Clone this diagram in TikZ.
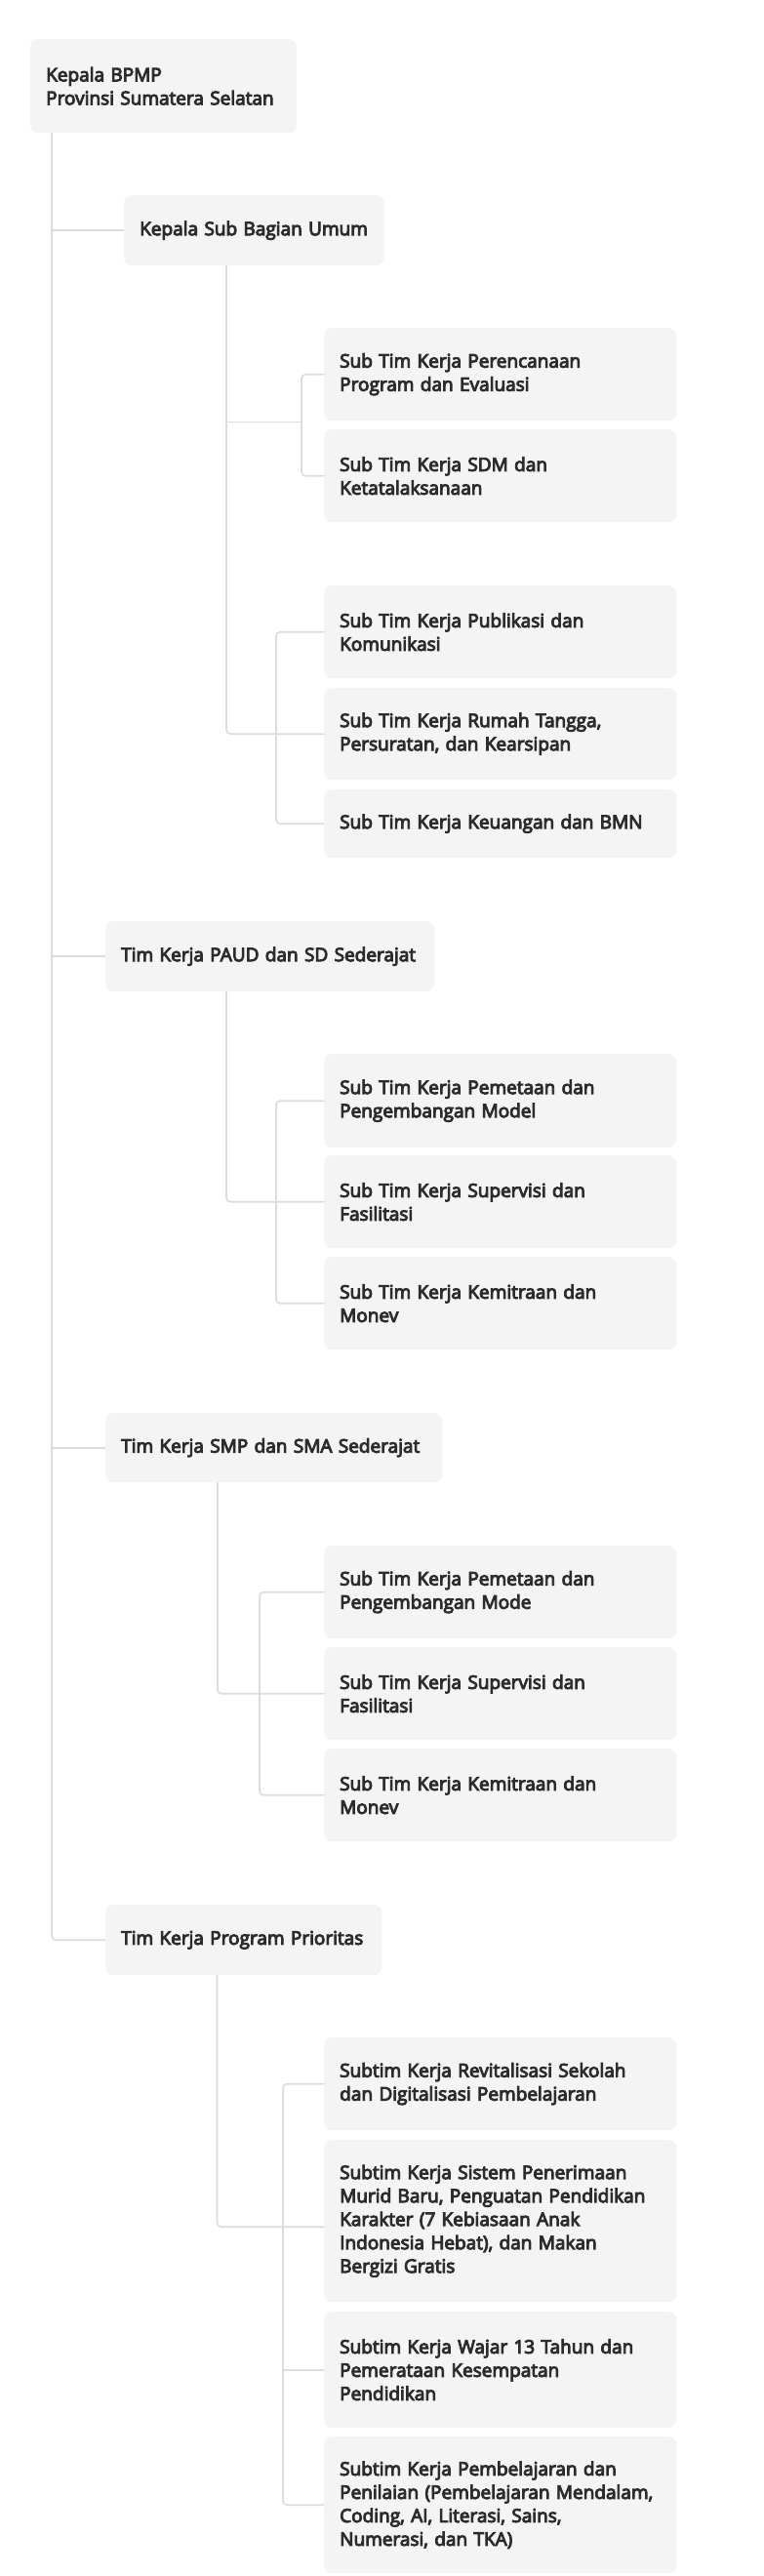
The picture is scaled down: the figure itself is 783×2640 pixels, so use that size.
\documentclass[tikz,border=0pt]{standalone}
\usepackage{fontspec}
\setmainfont{Open Sans}[FakeBold=5]
\definecolor{boxgray}{HTML}{F4F4F4}
\definecolor{linegray}{HTML}{DCDCDC}
\definecolor{inkgray}{HTML}{2C2C2C}
\begin{document}
\begin{tikzpicture}
        [x=1pt, y=-1pt,
        unit/.style={rectangle, rounded corners=8pt, fill=boxgray, text=inkgray, anchor=north west,
                inner xsep=16pt, inner ysep=0pt, align=left, font=\fontsize{19}{24}\selectfont},
        subunit/.style={unit, text width=329pt},
        link/.style={draw=linegray, line width=1.6pt, rounded corners=4pt}]
        \fill[white] (0,0) rectangle (783,2640);
        \useasboundingbox (0,0) rectangle (783,2640);

        \node[unit, text width=241pt, minimum height=96pt] (root) at (31,40) {Kepala BPMP\\Provinsi Sumatera Selatan};

        \node[unit, text width=234pt, minimum height=72pt] (umum) at (127,200) {Kepala Sub Bagian Umum};
        \node[subunit, minimum height=95pt] (u1) at (332,336) {Sub Tim Kerja Perencanaan\\Program dan Evaluasi};
        \node[subunit, minimum height=95pt] (u2) at (332,440) {Sub Tim Kerja SDM dan\\Ketatalaksanaan};
        \node[subunit, minimum height=95pt] (u3) at (332,600) {Sub Tim Kerja Publikasi dan\\Komunikasi};
        \node[subunit, minimum height=94pt] (u4) at (332,705) {Sub Tim Kerja Rumah Tangga,\\Persuratan, dan Kearsipan};
        \node[subunit, minimum height=70pt] (u5) at (332,809) {Sub Tim Kerja Keuangan dan BMN};

        \node[unit, text width=305pt, minimum height=72pt] (paud) at (108,944) {Tim Kerja PAUD dan SD Sederajat};
        \node[subunit, minimum height=96pt] (p1) at (332,1080) {Sub Tim Kerja Pemetaan dan\\Pengembangan Model};
        \node[subunit, minimum height=95pt] (p2) at (332,1184) {Sub Tim Kerja Supervisi dan\\Fasilitasi};
        \node[subunit, minimum height=95pt] (p3) at (332,1288) {Sub Tim Kerja Kemitraan dan\\Monev};

        \node[unit, text width=313pt, minimum height=71pt] (smp) at (108,1448) {Tim Kerja SMP dan SMA Sederajat};
        \node[subunit, minimum height=95pt] (s1) at (332,1584) {Sub Tim Kerja Pemetaan dan\\Pengembangan Mode};
        \node[subunit, minimum height=95pt] (s2) at (332,1688) {Sub Tim Kerja Supervisi dan\\Fasilitasi};
        \node[subunit, minimum height=95pt] (s3) at (332,1792) {Sub Tim Kerja Kemitraan dan\\Monev};

        \node[unit, text width=251pt, minimum height=72pt] (prior) at (108,1952) {Tim Kerja Program Prioritas};
        \node[subunit, minimum height=95pt] (r1) at (332,2088) {Subtim Kerja Revitalisasi Sekolah\\dan Digitalisasi Pembelajaran};
        \node[subunit, minimum height=166pt] (r2) at (332,2193) {Subtim Kerja Sistem Penerimaan\\Murid Baru, Penguatan Pendidikan\\Karakter (7 Kebiasaan Anak\\Indonesia Hebat), dan Makan\\Bergizi Gratis};
        \node[subunit, minimum height=119pt] (r3) at (332,2369) {Subtim Kerja Wajar 13 Tahun dan\\Pemerataan Kesempatan\\Pendidikan};
        \node[subunit, minimum height=140pt] (r4) at (332,2497) {Subtim Kerja Pembelajaran dan\\Penilaian (Pembelajaran Mendalam,\\Coding, AI, Literasi, Sains,\\Numerasi, dan TKA)};

        % trunk
        \coordinate (trunk) at ([xshift=22pt]root.south west);
        \draw[link] (trunk) |- (prior.west);
        \draw[link] (trunk |- umum.west) -- (umum.west);
        \draw[link] (trunk |- paud.west) -- (paud.west);
        \draw[link] (trunk |- smp.west) -- (smp.west);

        % sub bagian umum
        \coordinate (uc) at ([xshift=105pt]umum.south west);
        \coordinate (g1) at ([xshift=-23pt, yshift=-1pt]u1.south west);
        \draw[link] (u1.west) -- ++(-23,0) |- (u2.west);
        \draw[link] (uc |- g1) -- (g1);
        \draw[link] (u3.west) -- ++(-49,0) |- (u5.west);
        \draw[link] (uc) |- (u4.west);

        % paud
        \coordinate (pc) at ([xshift=124pt]paud.south west);
        \draw[link] (p1.west) -- ++(-49,0) |- (p3.west);
        \draw[link] (pc) |- (p2.west);

        % smp
        \coordinate (sc) at ([xshift=115pt]smp.south west);
        \draw[link] (s1.west) -- ++(-66,0) |- (s3.west);
        \draw[link] (sc) |- (s2.west);

        % prioritas
        \coordinate (rc) at ([xshift=114.5pt]prior.south west);
        \draw[link] (r1.west) -- ++(-42,0) |- (r4.west);
        \draw[link] ([xshift=-42pt]r3.west) -- (r3.west);
        \draw[link] (rc) |- ([yshift=-6pt]r2.west);
    \end{tikzpicture}
\end{document}
